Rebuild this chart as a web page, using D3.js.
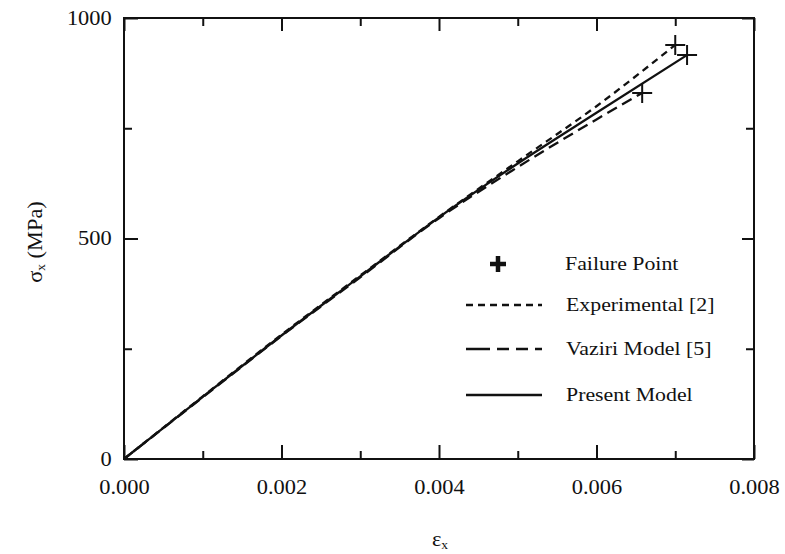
<!DOCTYPE html>
<html>
<head>
<meta charset="utf-8">
<script src="https://cdn.jsdelivr.net/npm/d3@7"></script>
<style>
  html, body { margin: 0; padding: 0; background: #fff; }
  svg text { font-family: "Liberation Serif", "DejaVu Serif", serif; fill: #111; }
</style>
</head>
<body>
<svg id="chart" width="785" height="554"></svg>
<script>
// Stress–strain curves (strain, stress in MPa)
const strain = [0, 0.001, 0.002, 0.003, 0.004, 0.005, 0.006];
const experimental = [0, 142, 282, 416, 549, 675, 800];
const vaziri       = [0, 140, 279, 412, 546, 662, 770];
const present      = [0, 141, 280, 414, 548, 670, 785];
// Final points of each curve (also the failure points)
const endStrain = [0.0070, 0.00658, 0.00715];
const endStress = [939, 830, 916];
const seriesNames = ["Experimental [2]", "Vaziri Model [5]", "Present Model"];

const xMajorTicks = [0, 0.002, 0.004, 0.006, 0.008];
const xMinorTicks = [0.001, 0.003, 0.005, 0.007];
const yMajorTicks = [0, 500, 1000];
const yMinorTicks = [250, 750];
const legendLabels = ["Failure Point", "Experimental [2]", "Vaziri Model [5]", "Present Model"];

const svg = d3.select("#chart");
const X0 = 124, X1 = 754, Y0 = 459, Y1 = 18;
const x = d3.scaleLinear().domain([0, 0.008]).range([X0, X1]);
const y = d3.scaleLinear().domain([0, 1000]).range([Y0, Y1]);
const SX = 1.12; // horizontal stretch of the serif text

const styles = [
  { dash: "7,5" },
  { dash: "11,6" },
  { dash: null }
];

// Axes: inward ticks on all four sides, labels on bottom/left only
function styleAxis(g) {
  g.select(".domain").remove();
  g.selectAll("line").attr("stroke", "#111").attr("stroke-width", 2);
  g.selectAll("text").attr("font-size", 20).attr("fill", "#111")
    .attr("transform", `scale(${SX},1)`);
}
svg.append("g").attr("transform", `translate(0,${Y0})`)
  .call(d3.axisBottom(x).tickValues(xMajorTicks).tickSizeInner(-14).tickSizeOuter(0)
    .tickPadding(21).tickFormat(d3.format(".3f"))).call(styleAxis);
svg.append("g").attr("transform", `translate(0,${Y0})`)
  .call(d3.axisBottom(x).tickValues(xMinorTicks).tickSizeInner(-8).tickSizeOuter(0).tickFormat("")).call(styleAxis);
svg.append("g").attr("transform", `translate(0,${Y1})`)
  .call(d3.axisTop(x).tickValues(xMajorTicks).tickSizeInner(-13).tickSizeOuter(0).tickFormat("")).call(styleAxis);
svg.append("g").attr("transform", `translate(0,${Y1})`)
  .call(d3.axisTop(x).tickValues(xMinorTicks).tickSizeInner(-8).tickSizeOuter(0).tickFormat("")).call(styleAxis);

svg.append("g").attr("transform", `translate(${X0},0)`)
  .call(d3.axisLeft(y).tickValues(yMajorTicks).tickSizeInner(-14).tickSizeOuter(0)
    .tickPadding(11).tickFormat(d3.format("d"))).call(styleAxis);
svg.append("g").attr("transform", `translate(${X0},0)`)
  .call(d3.axisLeft(y).tickValues(yMinorTicks).tickSizeInner(-8).tickSizeOuter(0).tickFormat("")).call(styleAxis);
svg.append("g").attr("transform", `translate(${X1},0)`)
  .call(d3.axisRight(y).tickValues(yMajorTicks).tickSizeInner(-12).tickSizeOuter(0).tickFormat("")).call(styleAxis);
svg.append("g").attr("transform", `translate(${X1},0)`)
  .call(d3.axisRight(y).tickValues(yMinorTicks).tickSizeInner(-8).tickSizeOuter(0).tickFormat("")).call(styleAxis);

// Frame
svg.append("rect").attr("x", X0).attr("y", Y1).attr("width", X1 - X0).attr("height", Y0 - Y1)
  .attr("fill", "none").attr("stroke", "#111").attr("stroke-width", 2);

// Curves
const seriesValues = [experimental, vaziri, present];
const line = d3.line().x(d => x(d[0])).y(d => y(d[1])).curve(d3.curveMonotoneX);
seriesValues.forEach((vals, i) => {
  const pts = strain.map((s, j) => [s, vals[j]]).filter(p => p[0] < endStrain[i]);
  pts.push([endStrain[i], endStress[i]]);
  svg.append("path").datum(pts)
    .attr("d", line)
    .attr("fill", "none")
    .attr("stroke", "#111")
    .attr("stroke-width", 2.3)
    .attr("stroke-dasharray", styles[i].dash);
});

// Failure points
svg.append("g").selectAll("path").data(endStrain.map((s, i) => [s, endStress[i]]))
  .join("path")
  .attr("transform", d => `translate(${x(d[0])},${y(d[1])})`)
  .attr("d", "M-10,0H10M0,-10V10")
  .attr("stroke", "#111").attr("stroke-width", 2).attr("fill", "none");

// Legend
const leg = svg.append("g");
const rowY = [264, 305, 349, 395];
leg.append("path")
  .attr("transform", `translate(498,${rowY[0]})`)
  .attr("d", "M-8,0H8M0,-8V8")
  .attr("stroke", "#111").attr("stroke-width", 4.5);
const legDash = ["7,5", "24,7,12,7,12,7,12", null];
for (let i = 0; i < 3; i++) {
  leg.append("line")
    .attr("x1", 466).attr("x2", 542)
    .attr("y1", rowY[i + 1]).attr("y2", rowY[i + 1])
    .attr("stroke", "#111").attr("stroke-width", 2.3)
    .attr("stroke-dasharray", legDash[i]);
}
leg.selectAll("text").data(legendLabels).join("text")
  .attr("transform", (d, i) => `translate(${i === 0 ? 565 : 566},${rowY[i] + 6}) scale(${SX},1)`)
  .attr("font-size", 19.5)
  .text(d => d);

// Axis titles
const xt = svg.append("text")
  .attr("transform", `translate(440,546) scale(${SX},1)`)
  .attr("text-anchor", "middle")
  .attr("font-size", 20);
xt.append("tspan").text("ε");
xt.append("tspan").attr("font-size", 12).attr("dy", 3).text("x");

const yt = svg.append("text")
  .attr("transform", `translate(42,242) rotate(-90) scale(${SX},1)`)
  .attr("text-anchor", "middle")
  .attr("font-size", 20);
yt.append("tspan").text("σ");
yt.append("tspan").attr("font-size", 12).attr("dy", 3).text("x");
yt.append("tspan").attr("dy", -3).text(" (MPa)");
</script>
</body>
</html>
